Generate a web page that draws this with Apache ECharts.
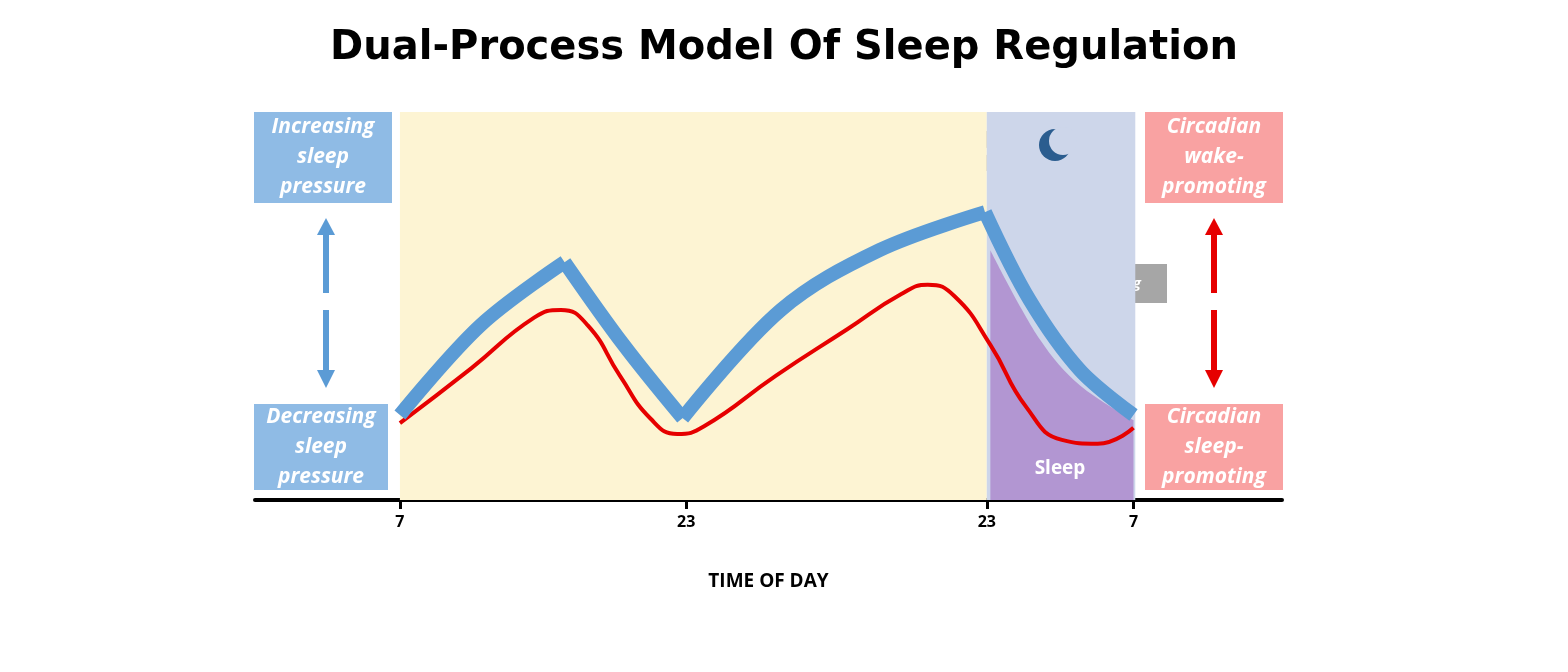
<!DOCTYPE html>
<html>
<head>
<meta charset="utf-8">
<style>
  html, body { margin: 0; padding: 0; background: #fff; }
  #chart { width: 1568px; height: 672px; }
</style>
<script src="https://cdn.jsdelivr.net/npm/echarts@6/dist/echarts.min.js"></script>
</head>
<body>
<div id="chart"></div>
<script>
// x is elapsed time units from the first 7 o'clock, y is relative level (0..100)
const tickValues = [0, 16, 32.8, 41];
const tickLabels = ['7', '23', '23', '7'];

// homeostatic sleep pressure (blue), split where the curve has sharp turns
const pressureRise1 = [[0, 21.9], [4.5, 45], [9.2, 61.3]];
const pressureFall1 = [[9.2, 61.3], [12.5, 40], [15.8, 21.1]];
const pressureRise2 = [[15.8, 21.1], [21.3, 49], [26.8, 64.4], [32.7, 74.2]];
const pressureFall2 = [[32.7, 74.2], [35.2, 51.5], [38, 33.5], [41, 21.9]];

// circadian process (red)
const circadian = [[0, 19.8], [4, 34], [7.5, 47], [9, 49], [10.5, 45], [12.3, 32], [14, 21],
  [15.5, 17], [17, 19], [21, 32], [25, 44], [28, 53], [29.5, 55.5], [31, 52.5], [33, 40],
  [35, 24], [37, 15.5], [39, 14.5], [41, 18.6]];

// sleep area under the falling pressure curve
const sleepArea = [[33, 64.4], [35.8, 41.2], [38, 29.6], [41, 20.6]];

const chart = echarts.init(document.getElementById('chart'));

const blueSeg = (data) => ({
  type: 'line', data, smooth: 0.35, symbol: 'none', z: 5,
  lineStyle: { color: '#5b9bd5', width: 14, cap: 'butt', join: 'miter' }
});

const box = (x, y, w, h, color, text) => ({
  type: 'group', z: 100, children: [
    { type: 'rect', shape: { x, y, width: w, height: h }, style: { fill: color } },
    { type: 'text', x: x + w / 2, y: y + h / 2, style: {
      text, fill: '#fff', font: 'italic bold 21px "Open Sans", sans-serif',
      align: 'center', verticalAlign: 'middle', lineHeight: 30 } }
  ]
});

function arrowHead(from, to, len, half) {
  const dx = to[0] - from[0], dy = to[1] - from[1];
  const d = Math.hypot(dx, dy), ux = dx / d, uy = dy / d;
  const bx = to[0] - ux * len, by = to[1] - uy * len;
  return [[to[0], to[1]], [bx - uy * half, by + ux * half], [bx + uy * half, by - ux * half]];
}

const note = (x, y, w, h, text, from, to) => ({
  type: 'group', z: 100, children: [
    { type: 'rect', shape: { x, y, width: w, height: h }, style: { fill: '#a6a6a6' } },
    { type: 'text', x: x + w / 2, y: y + h / 2, style: {
      text, fill: '#fff', font: 'italic bold 15px "Open Sans", sans-serif',
      align: 'center', verticalAlign: 'middle' } },
    { type: 'line', shape: { x1: from[0], y1: from[1], x2: to[0], y2: to[1] },
      style: { stroke: '#7f7f7f', lineWidth: 1.5 } },
    { type: 'polygon', shape: { points: arrowHead(from, to, 10, 5) }, style: { fill: '#7f7f7f' } }
  ]
});

const dblArrow = (x, color) => ({
  type: 'group', z: 100, children: [
    { type: 'polygon', shape: { points: [[x, 218], [x - 9, 235], [x + 9, 235]] }, style: { fill: color } },
    { type: 'rect', shape: { x: x - 3, y: 233, width: 6, height: 60 }, style: { fill: color } },
    { type: 'rect', shape: { x: x - 3, y: 310, width: 6, height: 62 }, style: { fill: color } },
    { type: 'polygon', shape: { points: [[x, 388], [x - 9, 370], [x + 9, 370]] }, style: { fill: color } }
  ]
});

function sun(cx, cy) {
  const children = [{ type: 'circle', shape: { cx, cy, r: 13 }, style: { fill: '#fbbf12' } }];
  for (let i = 0; i < 28; i++) {
    const a = i / 28 * Math.PI * 2;
    const r2 = i % 2 ? 26 : 29;
    children.push({ type: 'line', shape: {
      x1: cx + Math.cos(a) * 18, y1: cy + Math.sin(a) * 18,
      x2: cx + Math.cos(a) * r2, y2: cy + Math.sin(a) * r2 },
      style: { stroke: '#f3d548', lineWidth: 1.3 } });
  }
  return { type: 'group', z: 100, children };
}

chart.setOption({
  title: {
    text: 'Dual-Process Model Of Sleep Regulation', left: 'center', top: 24,
    textStyle: { fontSize: 40, fontWeight: 'bold', color: '#000', fontFamily: '"DejaVu Sans", sans-serif' }
  },
  grid: { left: 255, right: 286, top: 112, bottom: 172 },
  xAxis: {
    type: 'value', min: -8.1, max: 49.3,
    name: 'TIME OF DAY', nameLocation: 'middle', nameGap: 72,
    nameTextStyle: { fontSize: 19, fontWeight: 'bold', color: '#000', fontFamily: '"Open Sans", sans-serif' },
    splitLine: { show: false },
    axisLine: { lineStyle: { color: '#000', width: 4 } },
    axisTick: { customValues: tickValues, length: 9, lineStyle: { color: '#000', width: 3 } },
    axisLabel: {
      customValues: tickValues, margin: 14,
      formatter: (v) => tickLabels[tickValues.indexOf(v)] ?? '',
      fontSize: 16, fontWeight: 'bold', color: '#000', fontFamily: '"Open Sans", sans-serif'
    }
  },
  yAxis: { type: 'value', min: 0, max: 100, show: false },
  series: [
    {
      type: 'line', data: [], silent: true,
      markArea: { silent: true, data: [
        [{ coord: [0, 0], itemStyle: { color: '#fdf4d3' } }, { coord: [32.8, 100] }],
        [{ coord: [32.8, 0], itemStyle: { color: '#cdd6ea' } }, { coord: [41.1, 100] }]
      ] }
    },
    {
      type: 'line', data: sleepArea, smooth: 0.35, symbol: 'none', z: 3,
      lineStyle: { width: 0 }, areaStyle: { color: '#b296d2', opacity: 1, origin: 'start' }
    },
    { type: 'line', data: circadian, smooth: 0.5, symbol: 'none', z: 4,
      lineStyle: { color: '#e60000', width: 4 } },
    blueSeg(pressureRise1), blueSeg(pressureFall1), blueSeg(pressureRise2), blueSeg(pressureFall2)
  ],
  graphic: [
    box(254, 112, 138, 91, '#8fbbe5', 'Increasing\nsleep\npressure'),
    box(254, 404, 134, 86, '#8fbbe5', 'Decreasing\nsleep\npressure'),
    box(1145, 112, 138, 91, '#f9a2a2', 'Circadian\nwake-\npromoting'),
    box(1145, 404, 138, 86, '#f9a2a2', 'Circadian\nsleep-\npromoting'),
    dblArrow(326, '#5b9bd5'),
    dblArrow(1214, '#e60000'),
    note(590, 266, 127, 38, 'Awakening', [645, 304], [680, 406]),
    note(883, 131, 139, 40, 'Falling asleep', [955, 171], [979, 200]),
    note(1037, 264, 130, 39, 'Awakening', [1092, 303], [1132, 408]),
    sun(567, 150), sun(841, 148),
    { type: 'circle', z: 100, shape: { cx: 1055, cy: 145, r: 16 }, style: { fill: '#2b5d8f' } },
    { type: 'circle', z: 101, shape: { cx: 1063, cy: 141, r: 14 }, style: { fill: '#cdd6ea' } },
    { type: 'text', z: 100, x: 1060, y: 469, style: { text: 'Sleep', fill: '#fff',
      font: 'bold 19px "Open Sans", sans-serif', align: 'center', verticalAlign: 'middle' } }
  ]
});
</script>
</body>
</html>
